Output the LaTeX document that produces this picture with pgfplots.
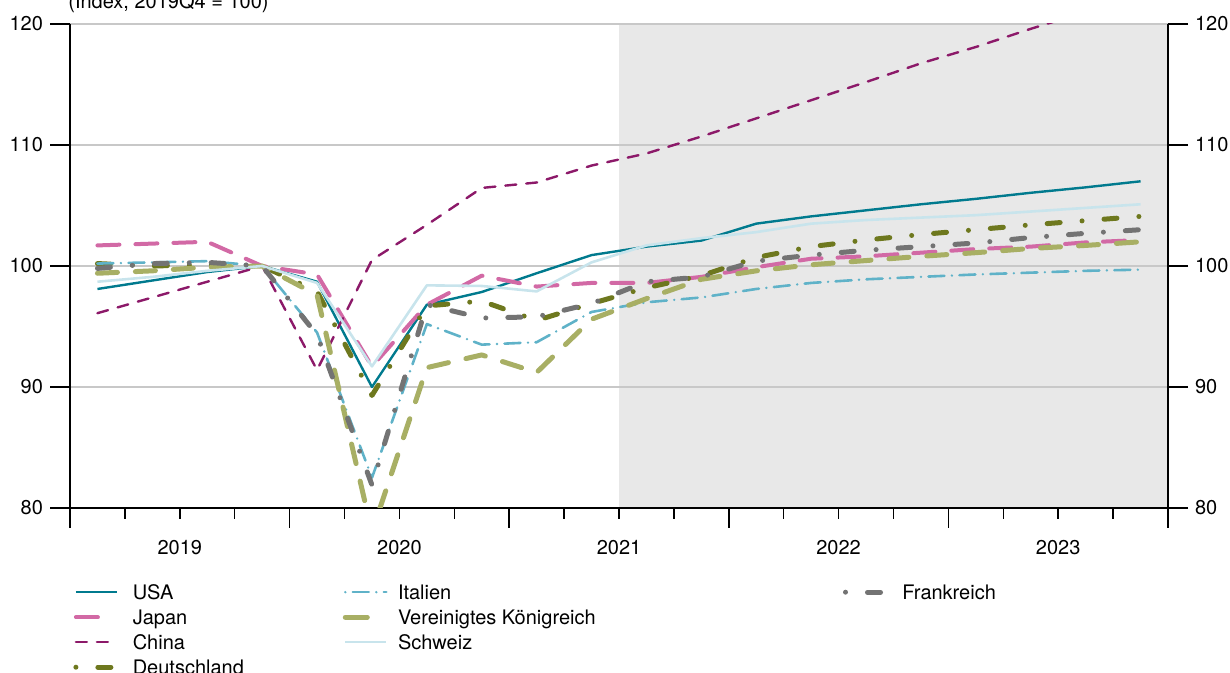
\documentclass[border=0pt]{standalone}
\usepackage{fontspec}
\setmainfont{TeX Gyre Heros}
\usepackage{pgfplots}
\usepackage{pgfplotstable}
\pgfplotsset{compat=1.18}

\definecolor{cusa}{RGB}{0,122,142}
\definecolor{cjpn}{RGB}{210,105,165}
\definecolor{cchn}{RGB}{140,25,105}
\definecolor{cdeu}{RGB}{110,120,30}
\definecolor{cita}{RGB}{95,178,200}
\definecolor{cgbr}{RGB}{168,175,100}
\definecolor{cche}{RGB}{200,228,236}
\definecolor{cfra}{RGB}{115,115,115}
\definecolor{cshade}{RGB}{232,232,232}
\definecolor{cgrid}{RGB}{200,200,200}

% quarter index: 0 = 2019Q1, 3 = 2019Q4 (= 100)
\pgfplotstableread{
q  usa    jpn    chn    deu    ita    gbr    che    fra
0  98.1   101.7  96.1   100.2  100.2  99.4   98.7   99.8
1  98.8   101.85 97.4   100.0  100.3  99.6   99.1   100.2
2  99.5   102.0  98.7   100.1  100.4  99.9   99.6   100.3
3  100.0  100.0  100.0  100.0  100.0  100.0  100.0  100.0
4  98.7   99.3   91.4   97.9   94.5   97.6   98.6   94.3
5  90.0   91.7   100.5  89.3   82.5   78.0   91.7   81.9
6  96.8   96.8   103.4  96.7   95.2   91.6   98.4   96.8
7  97.85  99.2   106.45 97.1   93.5   92.65  98.35  95.7
8  99.4   98.3   106.9  95.5   93.7   91.2   97.9   95.8
9  100.9  98.6   108.3  96.9   96.2   95.6   100.3  96.9
10 101.6  98.6   109.3  98.2   97.0   97.3   101.7  98.7
11 102.1  99.1   110.7  99.2   97.4   98.9   102.3  99.1
12 103.5  99.9   112.2  100.7  98.1   99.6   102.8  100.4
13 104.1  100.6  113.7  101.6  98.6   100.1  103.5  100.9
14 104.6  100.8  115.2  102.15 98.9   100.45 103.8  101.3
15 105.1  101.1  116.75 102.6  99.1   100.8  104.0  101.6
16 105.55 101.4  118.1  103.0  99.3   101.1  104.2  101.9
17 106.05 101.6  119.6  103.4  99.45  101.45 104.5  102.35
18 106.5  101.95 121.0  103.75 99.6   101.7  104.8  102.7
19 107.0  102.15 122.4  104.1  99.7   102.0  105.1  103.0
}\gdp

\pgfplotsset{
  legline/.style={legend image code/.code={\draw[##1] (0pt,0pt) -- (20.5pt,0pt);}},
  legshort/.style={legend image code/.code={\draw[##1, solid] (0pt,0pt) -- (11pt,0pt); \path[draw=none, fill=none] (0pt,0pt) -- (20.5pt,0pt);}},
  legdd/.style={legend image code/.code={\draw[##1, dash phase=17.5pt] (0pt,0pt) -- (22pt,0pt);}},
  legita/.style={legend image code/.code={\draw[##1, dash phase=11.75pt] (0pt,0pt) -- (20.5pt,0pt);}},
  usaS/.style={color=cusa, line width=1.2pt, solid, legline},
  jpnS/.style={color=cjpn, line width=2pt, line cap=round, dash pattern=on 11pt off 8pt, legshort},
  chnS/.style={color=cchn, line width=1.2pt, line cap=round, dash pattern=on 5.5pt off 5pt, legline},
  deuS/.style={color=cdeu, line width=2.5pt, line cap=round, dash pattern=on 6.5pt off 11pt on 0pt off 11pt, legdd},
  itaS/.style={color=cita, line width=1.3pt, line cap=round, dash pattern=on 8pt off 3.75pt on 0pt off 3.75pt, legita},
  gbrS/.style={color=cgbr, line width=2.5pt, line cap=round, dash pattern=on 10pt off 9pt, legshort},
  cheS/.style={color=cche, line width=1.3pt, solid, legline},
  fraS/.style={color=cfra, line width=2.5pt, line cap=round, dash pattern=on 6.5pt off 11pt on 0pt off 11pt, legdd},
  frame/.style={
    scale only axis, width=549pt, height=242pt,
    xmin=-0.5, xmax=19.5, ymin=80, ymax=120,
    ytick={80,90,...,120},
    tick align=outside,
    major tick length=10pt, minor tick length=5.5pt,
    tick style={black, line width=0.75pt},
    axis line style={black, line width=1pt, -},
    ticklabel style={font=\fontsize{10}{12}\selectfont},
    /pgf/number format/assume math mode=true,
  },
}

\begin{document}
\begin{tikzpicture}
\begin{axis}[
  frame,
  set layers=standard,
  axis x line*=bottom, axis y line*=left,
  xtick={-0.5,3.5,7.5,11.5,15.5,19.5}, xticklabels={},
  minor xtick={0.5,1.5,2.5,4.5,5.5,6.5,8.5,9.5,10.5,12.5,13.5,14.5,16.5,17.5,18.5},
  extra x ticks={1.5,5.5,9.5,13.5,17.5},
  extra x tick labels={2019,2020,2021,2022,2023},
  extra x tick style={major tick length=0pt, xticklabel style={yshift=-12.5pt}},
  ymajorgrids, grid style={color=cgrid, line width=0.75pt},
  line join=round,
  legend columns=3,
  legend cell align=left,
  legend style={draw=none, fill=none, at={(0,0)}, anchor=north west,
    xshift=1.5pt, yshift=-35.8pt, inner sep=0pt, row sep=0.3pt, column sep=0pt,
    font=\fontsize{10}{12}\selectfont,
    nodes={inner sep=0pt, text height=9.7pt, text depth=2.5pt},
    /tikz/every odd column/.append style={column sep=5.2pt}},
]
\coordinate (SW) at (rel axis cs:0,0);
\coordinate (NW) at (rel axis cs:0,1);
\addplot[fill=cshade, draw=none, forget plot, on layer=axis background]
  coordinates {(9.5,120) (19.5,120)} \closedcycle;

\addplot[usaS, forget plot] table[x=q, y=usa] {\gdp};
\addplot[jpnS, forget plot] table[x=q, y=jpn] {\gdp};
\addplot[chnS, forget plot] table[x=q, y=chn] {\gdp};
\addplot[deuS, forget plot] table[x=q, y=deu] {\gdp};
\addplot[itaS, forget plot] table[x=q, y=ita] {\gdp};
\addplot[gbrS, forget plot] table[x=q, y=gbr] {\gdp};
\addplot[cheS, forget plot] table[x=q, y=che] {\gdp};
\addplot[fraS, forget plot] table[x=q, y=fra] {\gdp};

\addlegendimage{usaS}\addlegendentry{\makebox[105pt][l]{USA}}
\addlegendimage{itaS}\addlegendentry{\makebox[222.5pt][l]{Italien}}
\addlegendimage{fraS}\addlegendentry{Frankreich}
\addlegendimage{jpnS}\addlegendentry{\makebox[105pt][l]{Japan}}
\addlegendimage{gbrS}\addlegendentry{\makebox[222.5pt][l]{Vereinigtes Königreich}}
\addlegendimage{empty legend}\addlegendentry{}
\addlegendimage{chnS}\addlegendentry{\makebox[105pt][l]{China}}
\addlegendimage{cheS}\addlegendentry{\makebox[222.5pt][l]{Schweiz}}
\addlegendimage{empty legend}\addlegendentry{}
\addlegendimage{deuS}\addlegendentry{\makebox[105pt][l]{Deutschland}}
\end{axis}

\begin{axis}[
  frame,
  axis x line=none, axis y line*=right,
  yticklabel pos=right,
]
\end{axis}

\node[anchor=base west, inner sep=0pt, font=\fontsize{10}{12}\selectfont]
  at ([xshift=-1pt, yshift=7.5pt]NW) {(Index, 2019Q4 = 100)};
\pgfresetboundingbox
\path[use as bounding box] ([xshift=-35pt, yshift=-82.5pt]SW) rectangle ([xshift=580pt, yshift=254pt]SW);
\end{tikzpicture}
\end{document}
